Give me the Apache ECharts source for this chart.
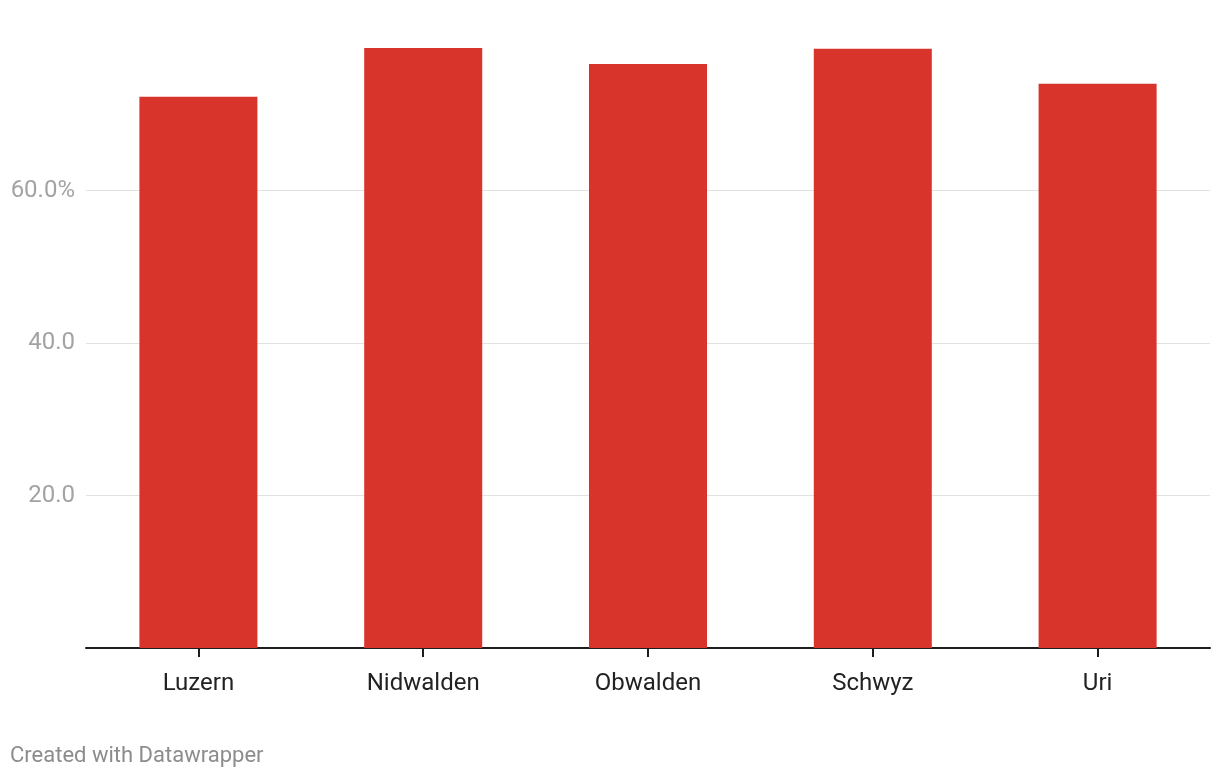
<!DOCTYPE html>
<html>
<head>
<meta charset="utf-8">
<script src="https://cdn.jsdelivr.net/npm/echarts@6/dist/echarts.min.js"></script>
<style>
html,body{margin:0;padding:0;background:#fff;}
#chart{width:1220px;height:778px;}
</style>
</head>
<body>
<div id="chart"></div>
<script>
const categories = ['Luzern', 'Nidwalden', 'Obwalden', 'Schwyz', 'Uri'];
const values = [72.3, 78.7, 76.6, 78.6, 74.0];
const tickLabels = { 20: '20.0', 40: '40.0', 60: '60.0%' };

const chart = echarts.init(document.getElementById('chart'));
chart.setOption({
  animation: false,
  backgroundColor: '#ffffff',
  textStyle: { fontFamily: 'Roboto' },
  grid: { left: 86, right: 10, top: 38, bottom: 130, containLabel: false },
  xAxis: {
    type: 'category',
    data: categories,
    axisLine: { lineStyle: { color: '#1d1d1d', width: 2 } },
    axisTick: { show: true, alignWithLabel: true, length: 9, lineStyle: { color: '#1d1d1d', width: 2 } },
    axisLabel: { color: '#222222', fontSize: 24, margin: 24, fontFamily: 'Roboto' }
  },
  yAxis: {
    type: 'value',
    min: 0,
    max: 80,
    interval: 20,
    axisLine: { show: false },
    axisTick: { show: false },
    axisLabel: {
      color: '#a3a3a3',
      fontSize: 24,
      margin: 11,
      padding: [4, 0, 0, 0],
      fontFamily: 'Roboto',
      formatter: function (v) { return tickLabels[v] || ''; }
    },
    splitLine: { show: true, lineStyle: { color: ['rgba(0,0,0,0)', '#e2e2e2', '#e2e2e2', '#e2e2e2', 'rgba(0,0,0,0)'], width: 1 } }
  },
  series: [{
    type: 'bar',
    data: values,
    barWidth: '52.5%',
    itemStyle: { color: '#d9342c' },
    silent: true
  }],
  graphic: [{
    type: 'text',
    left: 10,
    top: 745,
    style: { text: 'Created with Datawrapper', fill: '#8c8c8c', fontSize: 22, fontFamily: 'Roboto' }
  }]
});
</script>
</body>
</html>
